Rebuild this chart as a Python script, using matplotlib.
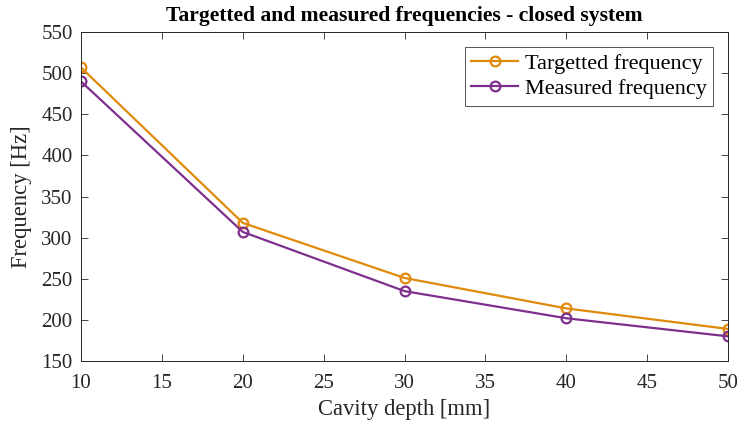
import matplotlib
matplotlib.use("Agg")
import matplotlib.pyplot as plt

depth = [10, 20, 30, 40, 50]
targetted = [507, 318, 251, 214, 189]
measured = [490, 307, 235, 202, 180]
xticks = [10, 15, 20, 25, 30, 35, 40, 45, 50]
yticks = [150, 200, 250, 300, 350, 400, 450, 500, 550]

plt.rcParams['font.family'] = ['Liberation Serif', 'DejaVu Serif']

fig = plt.figure(figsize=(7.41, 4.28), dpi=100)
ax = fig.add_axes([0.1093, 0.1565, 0.8732, 0.7685])

ax.plot(depth, targetted, color='#E08A0B', lw=1.6, marker='o', ms=7,
        mfc='none', mew=1.6, label='Targetted frequency')
ax.plot(depth, measured, color='#7E2F8E', lw=1.6, marker='o', ms=7,
        mfc='none', mew=1.6, label='Measured frequency')

ax.set_xlim(10, 50)
ax.set_ylim(150, 550)
ax.set_xticks(xticks)
ax.set_yticks(yticks)
ax.tick_params(direction='in', length=5, width=0.6, labelsize=15, colors='#262626',
               top=True, right=True, labeltop=False, labelright=False)
ax.tick_params(axis='y', pad=6)
ax.tick_params(axis='x', pad=9)
for s in ax.spines.values():
    s.set_linewidth(0.7)
    s.set_color('#262626')

ax.set_xlabel('Cavity depth [mm]', fontsize=16.3, color='#262626', labelpad=5)
ax.set_ylabel('Frequency [Hz]', fontsize=16.3, color='#262626', labelpad=7)
ax.set_title('Targetted and measured frequencies - closed system', fontsize=15.6,
             fontweight='bold', pad=8)

leg = ax.legend(loc='upper right', bbox_to_anchor=(0.977, 0.955), fontsize=16,
                frameon=True, fancybox=False, edgecolor='#262626',
                handlelength=2.1, borderpad=0.3, labelspacing=0.2, handletextpad=0.3,
                borderaxespad=0)
leg.get_frame().set_linewidth(0.7)

fig.savefig('out.png', dpi=100)
